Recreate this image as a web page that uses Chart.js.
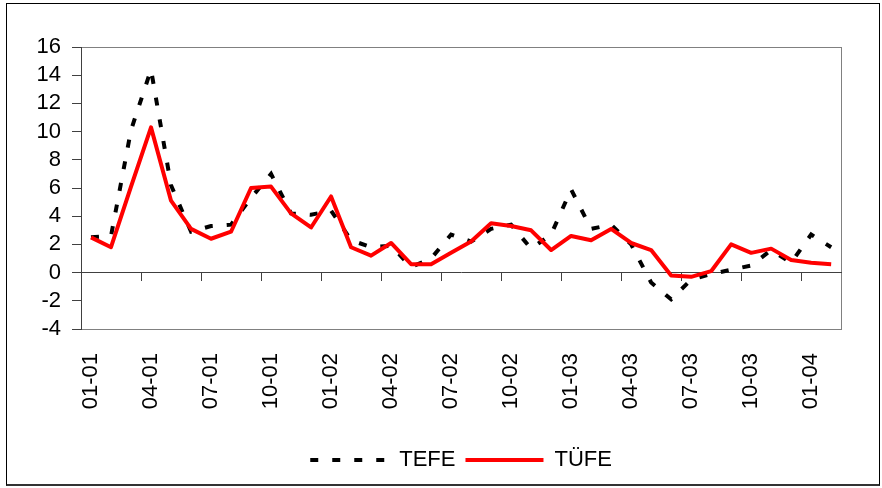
<!DOCTYPE html>
<html>
<head>
<meta charset="utf-8">
<script src="https://cdn.jsdelivr.net/npm/chart.js@4/dist/chart.umd.min.js"></script>
<style>
  html, body { margin: 0; padding: 0; background: #fff; }
  #wrap { position: relative; width: 882px; height: 488px; }
  #frame { position: absolute; left: 6px; top: 3px; width: 872px; height: 480px;
           border: 1px solid #000; border-bottom: 2px solid #333; pointer-events: none; }
</style>
</head>
<body>
<div id="wrap">
  <canvas id="c" width="882" height="488"></canvas>
  <div id="frame"></div>
</div>
<script>
// Monthly change (%), January 2001 - February 2004
const months = [
  '01-01', '02-01', '03-01', '04-01', '05-01', '06-01', '07-01', '08-01', '09-01', '10-01', '11-01', '12-01',
  '01-02', '02-02', '03-02', '04-02', '05-02', '06-02', '07-02', '08-02', '09-02', '10-02', '11-02', '12-02',
  '01-03', '02-03', '03-03', '04-03', '05-03', '06-03', '07-03', '08-03', '09-03', '10-03', '11-03', '12-03',
  '01-04', '02-04'
];

const tefe = [
  2.5, 2.6, 10.1, 14.4, 6.2, 2.9, 3.3, 3.4, 5.3, 7.0, 4.2, 4.1,
  4.4, 2.3, 1.8, 1.9, 0.4, 1.0, 2.7, 2.2, 3.1, 3.4, 1.7, 2.7,
  5.9, 3.1, 3.4, 2.0, -0.7, -1.9, -0.5, -0.1, 0.2, 0.5, 1.6, 0.7,
  2.7, 1.8
];

const tufe = [
  2.5, 1.8, 6.1, 10.3, 5.1, 3.1, 2.4, 2.9, 6.0, 6.1, 4.2, 3.2,
  5.4, 1.8, 1.2, 2.1, 0.6, 0.6, 1.4, 2.2, 3.5, 3.3, 3.0, 1.6,
  2.6, 2.3, 3.1, 2.1, 1.6, -0.2, -0.3, 0.1, 2.0, 1.4, 1.7, 0.9,
  0.7, 0.6
];

const yMin = -4;
const yMax = 16;
const yStep = 2;
const labelEvery = 3;   // one category label / tick mark per quarter

Chart.defaults.font.family = "'Liberation Sans', Arial, sans-serif";
Chart.defaults.color = '#000';

// grey border round the plotting area
const plotFrame = {
  id: 'plotFrame',
  beforeDraw(chart) {
    const { ctx, chartArea: a } = chart;
    ctx.save();
    ctx.strokeStyle = '#808080';
    ctx.lineWidth = 1;
    ctx.strokeRect(Math.round(a.left) + 0.5, Math.round(a.top) + 0.5,
                   Math.round(a.right - a.left), Math.round(a.bottom - a.top));
    ctx.restore();
  }
};

// legend samples keep each series' own line width and dash pattern
const defaultLegendLabels = Chart.defaults.plugins.legend.labels.generateLabels;
function legendLabels(chart) {
  return defaultLegendLabels(chart).map(item => {
    const ds = chart.data.datasets[item.datasetIndex];
    item.lineDash = ds.borderDash || [];
    item.lineWidth = ds.borderWidth;
    item.strokeStyle = ds.borderColor;
    item.lineCap = 'butt';
    return item;
  });
}

new Chart(document.getElementById('c'), {
  type: 'line',
  data: {
    labels: months,
    datasets: [
      {
        label: 'TEFE',
        data: tefe,
        borderColor: '#000',
        backgroundColor: '#000',
        borderWidth: 4,
        borderDash: [8, 14],
        borderCapStyle: 'butt',
        pointRadius: 0,
        tension: 0,
        order: 1
      },
      {
        label: 'TÜFE',
        data: tufe,
        borderColor: '#ff0000',
        backgroundColor: '#ff0000',
        borderWidth: 4,
        borderJoinStyle: 'round',
        pointRadius: 0,
        tension: 0,
        order: 0
      }
    ]
  },
  options: {
    responsive: false,
    animation: false,
    devicePixelRatio: 1,
    layout: { padding: { left: 0, top: 47, right: 33, bottom: 7 } },
    plugins: {
      tooltip: { enabled: false },
      legend: {
        position: 'bottom',
        fullSize: false,
        labels: {
          usePointStyle: true,
          pointStyle: 'line',
          pointStyleWidth: 78,
          font: { size: 22 },
          color: '#000',
          padding: 10,
          generateLabels: legendLabels,
          sort: (a, b) => a.datasetIndex - b.datasetIndex
        }
      }
    },
    scales: {
      x: {
        type: 'category',
        position: { y: 0 },
        offset: true,
        grid: {
          offset: true,
          drawOnChartArea: false,
          drawTicks: true,
          tickLength: 8,
          tickWidth: 1,
          tickColor: c => (c.index !== undefined && c.index > 0 && c.index % labelEvery === 0)
            ? '#404040' : 'rgba(0,0,0,0)'
        },
        border: { display: true, color: '#404040', width: 1 },
        ticks: { display: false }
      },
      x2: {
        type: 'category',
        position: 'bottom',
        offset: true,
        grid: { display: false, drawTicks: false },
        border: { display: false },
        ticks: {
          autoSkip: false,
          minRotation: 90,
          maxRotation: 90,
          padding: 24,
          font: { size: 22 },
          color: '#000',
          callback(v, i) { return i % labelEvery === 0 ? this.getLabelForValue(v) : ''; }
        },
        afterFit(s) { s.height = 110; }
      },
      y: {
        min: yMin,
        max: yMax,
        ticks: { stepSize: yStep, autoSkip: false, font: { size: 22 }, color: '#000', padding: 11 },
        grid: { drawOnChartArea: false, tickLength: 9, color: '#404040' },
        border: { color: '#404040', width: 1 },
        afterFit(s) { s.width = 81; }
      }
    }
  },
  plugins: [plotFrame]
});
</script>
</body>
</html>
